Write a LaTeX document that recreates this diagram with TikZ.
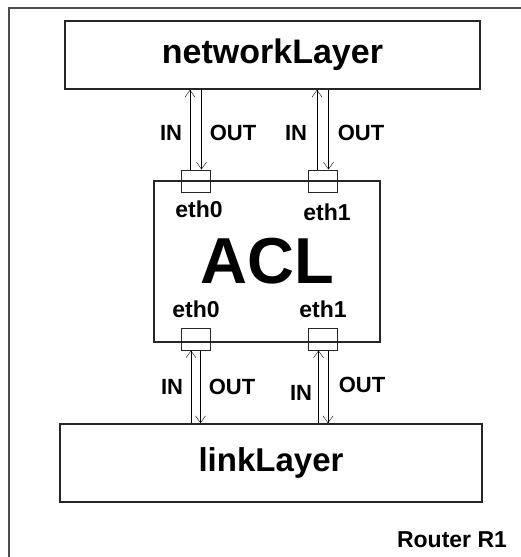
\documentclass[tikz,border=0pt]{standalone}
\usepackage{fontspec}
\setmainfont{Liberation Sans}
\usetikzlibrary{arrows.meta, positioning, calc}

\tikzset{
  layerbox/.style={draw=black!85, line width=1.6pt, minimum width=#1, inner sep=0pt},
  portbox/.style={draw=black!85, line width=1pt, minimum width=29pt, minimum height=22pt, inner sep=0pt},
  iolabel/.style={font=\bfseries\fontsize{22}{22}\selectfont},
  ethlabel/.style={font=\bfseries\fontsize{23}{23}\selectfont},
}

\begin{document}
\begin{tikzpicture}[x=1pt, y=-1pt, >={Straight Barb[length=7pt,width=10pt]}]
      \useasboundingbox (0,0) rectangle (521,557);
      \draw[black!70, line width=2pt] (9,560) -- (9,8) -- (525,8);

      % layers and ACL
      \node[layerbox=415pt, minimum height=68pt, font=\bfseries\fontsize{34}{34}\selectfont] (net) at (272.5,55) {networkLayer};
      \node[layerbox=226pt, minimum height=161pt, font=\bfseries\fontsize{65}{65}\selectfont] (acl) at (267,261.5) {ACL};
      \node[layerbox=422pt, minimum height=78pt, font=\bfseries\fontsize{33}{33}\selectfont] (link) at (271,463) {linkLayer};

      % ports
      \node[portbox] (up0) at (195.5,181) {};
      \node[portbox] (up1) at (322.5,181) {};
      \node[portbox] (dn0) at (195.5,339) {};
      \node[portbox] (dn1) at (323,339) {};

      \node[ethlabel] (up0name) at (199,209) {eth0};
      \node[ethlabel] (up1name) at (327,212) {eth1};
      \node[ethlabel] (dn0name) at (196,309) {eth0};
      \node[ethlabel] (dn1name) at (323,309) {eth1};

      % connectors
      \foreach \p in {up0, up1} {
        \draw[->] ([xshift=-5.5pt]\p.north) -- ([xshift=-5.5pt]\p.north |- net.south);
        \draw[->] ([xshift=6pt]\p.north |- net.south) -- ([xshift=6pt]\p.north);
      }
      \foreach \p in {dn0, dn1} {
        \draw[->] ([xshift=-4.5pt]\p.south |- link.north) -- ([xshift=-4.5pt]\p.south);
        \draw[->] ([xshift=5pt]\p.south) -- ([xshift=5pt]\p.south |- link.north);
      }

      \node[iolabel] (in1) at (171,133) {IN};
      \node[iolabel] (out1) at (233,133) {OUT};
      \node[iolabel] (in2) at (296,133) {IN};
      \node[iolabel] (out2) at (361,133) {OUT};
      \node[iolabel] (in3) at (172,387) {IN};
      \node[iolabel] (out3) at (232,387) {OUT};
      \node[iolabel] (in4) at (301,393) {IN};
      \node[iolabel] (out4) at (362,385) {OUT};

      \node[ethlabel] (router) at (452,540) {Router R1};
    \end{tikzpicture}
\end{document}
